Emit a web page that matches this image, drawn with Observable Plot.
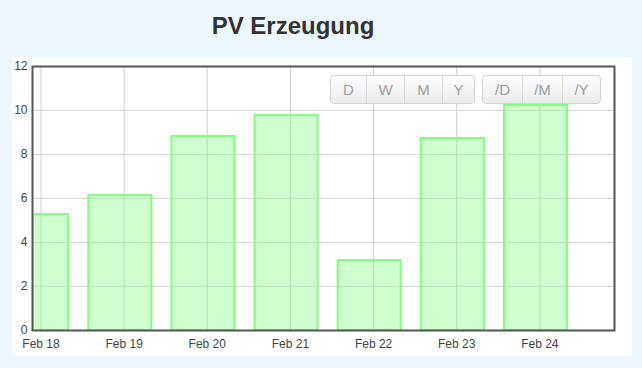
<!DOCTYPE html>
<html>
<head>
<meta charset="utf-8">
<script src="https://cdn.jsdelivr.net/npm/d3@7"></script>
<script src="https://cdn.jsdelivr.net/npm/@observablehq/plot@0.6"></script>
<style>
  html, body { margin: 0; padding: 0; }
  body { width: 642px; height: 368px; background: #eef6fd; font-family: "Liberation Sans", Arial, sans-serif; position: relative; overflow: hidden; }
  #title { position: absolute; left: 0; top: 12px; width: 586px; text-align: center; font-size: 24px; font-weight: bold; color: #333; }
  #panel { position: absolute; left: 12px; top: 57px; width: 620px; height: 299px; background: #fff; }
  .grp { position: absolute; top: 18px; height: 29px; display: flex; border: 1px solid #d4d4d4; border-radius: 4px; background: linear-gradient(#fdfdfd, #ececec); box-sizing: border-box; overflow: hidden; }
  .grp div { height: 100%; display: flex; align-items: center; justify-content: center; color: #a0a0a0; font-size: 15px; border-left: 1px solid #d8d8d8; box-sizing: border-box; }
  .grp div:first-child { border-left: none; }
</style>
</head>
<body>
<div id="title">PV Erzeugung</div>
<div id="panel"></div>
<script>
const days = ["2024-02-18", "2024-02-19", "2024-02-20", "2024-02-21", "2024-02-22", "2024-02-23", "2024-02-24"];
const values = [5.27, 6.14, 8.82, 9.77, 3.18, 8.73, 10.23];
const yTicks = [0, 2, 4, 6, 8, 10, 12];
const buttonsA = ["D", "W", "M", "Y"];
const buttonsB = ["/D", "/M", "/Y"];

const hour = 3600 * 1000;
const data = days.map((d, i) => {
  const t = new Date(d + "T00:00:00Z");
  return { date: t, x1: new Date(+t - 10.2 * hour), x2: new Date(+t + 8 * hour), value: values[i] };
});
const t0 = new Date(days[0] + "T00:00:00Z");
const domainStart = new Date(+t0 - 2.45 * hour);
const domainEnd = new Date(+domainStart + 7 * 24 * hour);

const chart = Plot.plot({
  width: 620,
  height: 299,
  marginLeft: 20,
  marginRight: 18,
  marginTop: 9,
  marginBottom: 26,
  style: { fontFamily: "'Liberation Sans', Arial, sans-serif", fontSize: "12px", color: "#444", background: "transparent" },
  x: { type: "utc", domain: [domainStart, domainEnd], ticks: data.map(d => d.date), tickFormat: d3.utcFormat("%b %d"), label: null },
  y: { domain: [0, 12], ticks: yTicks, label: null },
  marks: [
    Plot.gridY(yTicks, { stroke: "#d8d8d8", strokeOpacity: 1 }),
    Plot.gridX(data.map(d => d.date), { stroke: "#d0d0d0", strokeOpacity: 1 }),
    Plot.rectY(data, { x1: "x1", x2: "x2", y: "value", fill: "#88ff88", fillOpacity: 0.4, stroke: "#80ff80", strokeWidth: 2, clip: true }),
    Plot.axisY(yTicks, { tickSize: 0, tickPadding: 5, fill: "#444", fontSize: 12 }),
    Plot.axisX(data.map(d => d.date), { tickSize: 0, tickPadding: 9, fill: "#444", fontSize: 12, tickFormat: d3.utcFormat("%b %d") }),
    Plot.frame({ stroke: "#555", strokeWidth: 2 })
  ]
});
const panel = document.getElementById("panel");
panel.appendChild(chart);

function group(labels, left, widths) {
  const g = document.createElement("div");
  g.className = "grp";
  g.style.left = left + "px";
  labels.forEach((l, i) => {
    const b = document.createElement("div");
    b.textContent = l;
    b.style.width = widths[i] + "px";
    g.appendChild(b);
  });
  panel.appendChild(g);
}
group(buttonsA, 318, [35, 38, 38, 32]);
group(buttonsB, 470, [39, 40, 38]);
</script>
</body>
</html>
